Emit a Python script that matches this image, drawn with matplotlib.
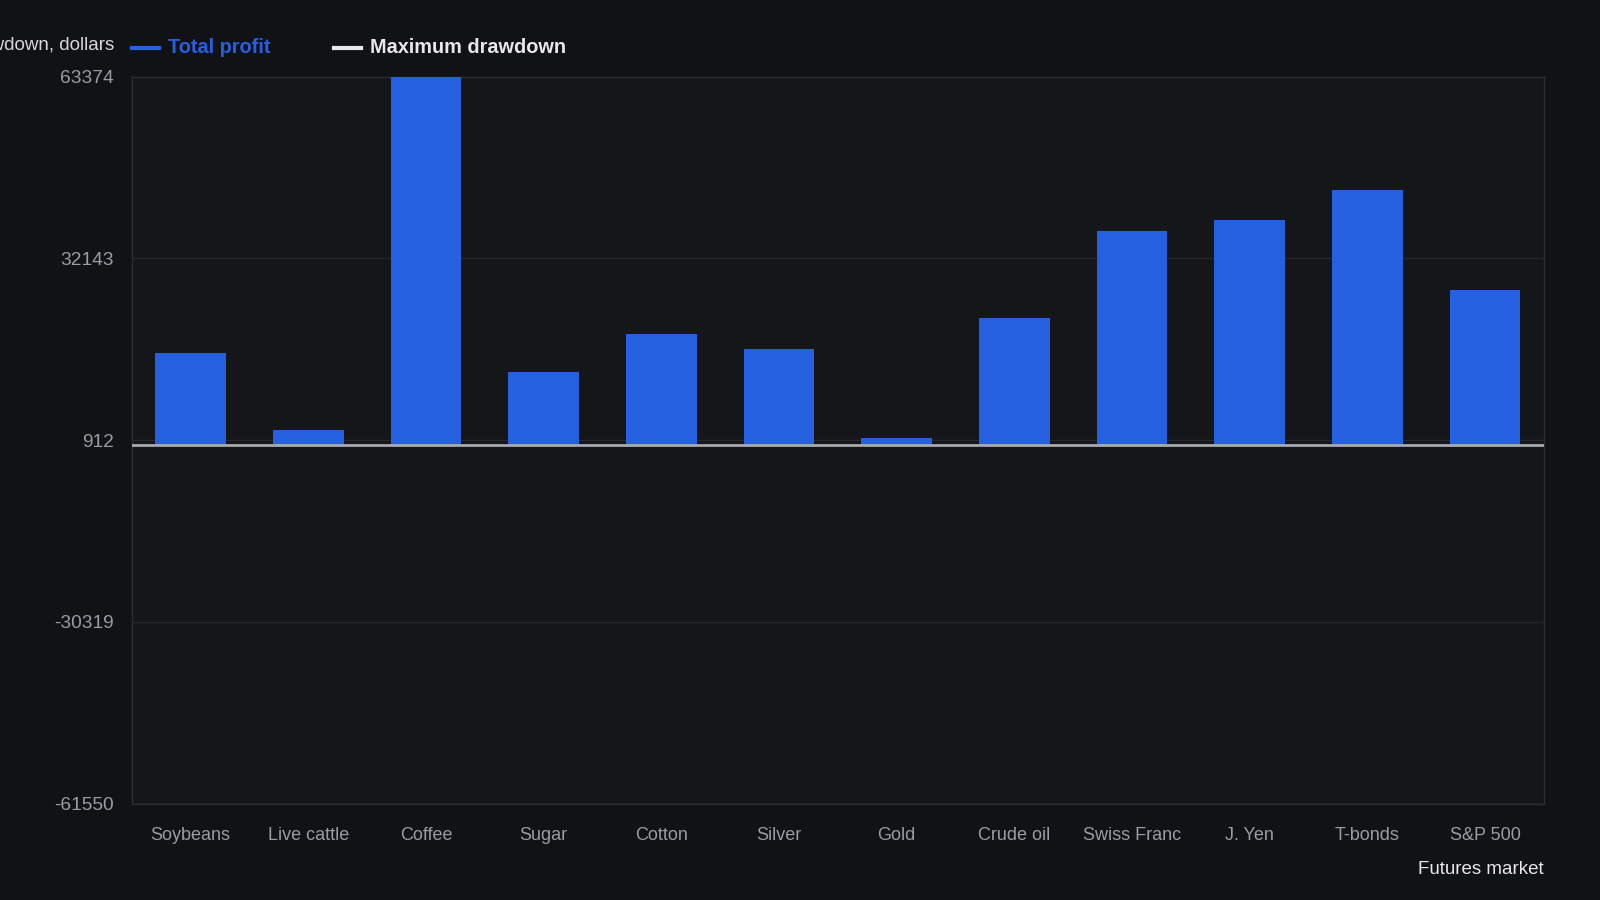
import matplotlib
matplotlib.use("Agg")
import matplotlib.pyplot as plt
from matplotlib.lines import Line2D

plt.rcParams['font.family'] = ['Liberation Sans', 'DejaVu Sans']

markets = ["Soybeans", "Live cattle", "Coffee", "Sugar", "Cotton", "Silver",
           "Gold", "Crude oil", "Swiss Franc", "J. Yen", "T-bonds", "S&P 500"]
total_profit = [15890, 2575, 63374, 12560, 19220, 16590,
                1350, 21850, 36915, 38670, 43920, 26750]
max_drawdown = [0, 0, 0, 0, 0, 0, 0, 0, 0, 0, 0, 0]
y_ticks = [-61550, -30319, 912, 32143, 63374]

BG = "#111216"
PLOT_BG = "#15161a"
BLUE = "#2560e0"
WHITE = "#e8e8e8"
GRID = "#25272c"
TICK = "#9a9ca1"

fig = plt.figure(figsize=(16, 9), dpi=100, facecolor=BG)
ax = fig.add_axes([0.0823, 0.107, 0.8827, 0.808])
ax.set_facecolor(PLOT_BG)

x = list(range(len(markets)))
ax.bar(x, total_profit, width=0.6, color=BLUE, zorder=3)
ax.bar(x, max_drawdown, width=0.6, color=WHITE, zorder=3)
ax.axhline(0, color="#a8aaae", lw=2, zorder=4)

ax.set_xlim(-0.5, len(markets) - 0.5)
ax.set_ylim(y_ticks[0], y_ticks[-1])
ax.set_yticks(y_ticks)
ax.set_yticklabels([str(v) for v in y_ticks])
ax.set_xticks(x)
ax.set_xticklabels(markets)
ax.grid(axis='y', color=GRID, lw=1, zorder=0)
ax.tick_params(axis='x', length=0, colors=TICK, labelsize=13, pad=17)
ax.tick_params(axis='y', length=0, colors=TICK, labelsize=13.8, pad=13)
for s in ax.spines.values():
    s.set_color("#2c2e33")
    s.set_linewidth(1)

fig.text(0.0715, 0.949, "Total profit and maximum drawdown, dollars",
         ha='right', va='center', color="#d8d8d8", fontsize=13.5)
fig.text(0.965, 0.034, "Futures market", ha='right', va='center',
         color=WHITE, fontsize=13.5)

# legend (manual placement to match reference)
ly = 0.947
fig.add_artist(Line2D([0.0826, 0.0995], [ly, ly], color=BLUE, lw=3,
                      transform=fig.transFigure))
fig.text(0.1052, ly, "Total profit", ha='left', va='center', color=BLUE,
         fontsize=14.3, fontweight='bold')
fig.add_artist(Line2D([0.2085, 0.2258], [ly, ly], color=WHITE, lw=3,
                      transform=fig.transFigure))
fig.text(0.2315, ly, "Maximum drawdown", ha='left', va='center', color=WHITE,
         fontsize=14.3, fontweight='bold')

fig.savefig("out.png", dpi=100, facecolor=BG)
